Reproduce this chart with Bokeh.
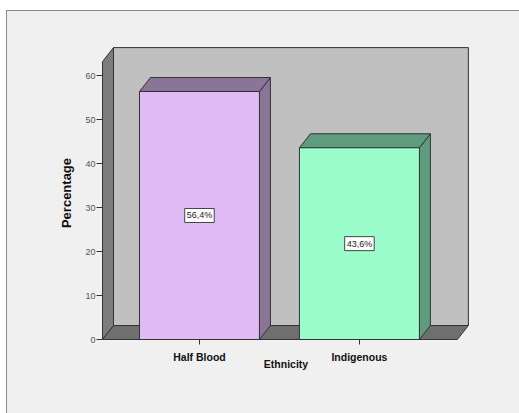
from bokeh.plotting import figure
from bokeh.models import Range1d, FixedTicker
from bokeh.core.properties import value
from bokeh.embed import file_html
from bokeh.resources import INLINE

# ---- data ----
categories = ["Half Blood", "Indigenous"]
percentages = [56.4, 43.6]
bar_labels = ["56,4%", "43,6%"]
y_ticks = [0, 10, 20, 30, 40, 50, 60]

# ---- styles / geometry ----
front_colors = ["#dfbaf3", "#9bfdcb"]
shade_colors = ["#8a7497", "#5e9c7d"]
positions = [1, 2]
bar_w = 0.75
x_lo, x_hi = 0.39375, 2.6125      # front floor extents
y_top = 63.2                       # top of front axis
dx, dy = 0.06875, 3.18             # 3D depth offset
edge = "#333333"
FONT = "Liberation Sans"

p = figure(width=519, height=413, output_backend="svg", toolbar_location=None,
           x_range=Range1d(x_lo, x_hi + dx + 0.007),
           y_range=Range1d(0, y_top + dy + 0.25),
           min_border_left=102, min_border_right=50,
           min_border_top=46, min_border_bottom=74,
           styles={"background-color": "#f0f0f0",
                   "box-shadow": "inset 6px 10px 0 0 #ffffff, inset 7px 11px 0 0 #8a8a8a"})
p.background_fill_color = "#f0f0f0"
p.border_fill_color = None
p.outline_line_color = None
p.grid.visible = False

# back wall
p.patch([x_lo + dx, x_hi + dx, x_hi + dx, x_lo + dx],
        [dy, dy, y_top + dy, y_top + dy],
        fill_color="#c0c0c0", line_color=edge, line_width=1)
# left wall
p.patch([x_lo, x_lo, x_lo + dx, x_lo + dx],
        [0, y_top, y_top + dy, dy],
        fill_color="#7d7d7d", line_color=edge, line_width=1)
# floor
p.patch([x_lo, x_hi, x_hi + dx, x_lo + dx],
        [0, 0, dy, dy],
        fill_color="#6f6f6f", line_color=edge, line_width=1)

# bars
for pos, v, fc, sc in zip(positions, percentages, front_colors, shade_colors):
    l, r = pos - bar_w / 2, pos + bar_w / 2
    p.patch([r, r, r + dx, r + dx], [0, v, v + dy, dy],
            fill_color=sc, line_color=edge, line_width=1)
    p.patch([l, r, r + dx, l + dx], [v, v, v + dy, v + dy],
            fill_color=sc, line_color=edge, line_width=1)
    p.quad(left=l, right=r, bottom=0, top=v,
           fill_color=fc, line_color=edge, line_width=1)

# value labels
p.text(x=positions, y=[v / 2 for v in percentages], text=bar_labels,
       text_font=value(FONT), text_font_size="9px", text_color="#222222",
       text_align="center", text_baseline="middle",
       background_fill_color="white", border_line_color="#444444",
       border_line_width=1, padding=2)

# axes
ya = p.yaxis[0]
ya.ticker = FixedTicker(ticks=y_ticks)
ya.bounds = (0, y_top)
ya.axis_line_color = edge
ya.major_tick_line_color = edge
ya.major_tick_in = 0
ya.major_tick_out = 6
ya.minor_tick_line_color = None
ya.major_label_text_font = FONT
ya.major_label_text_font_size = "9px"
ya.major_label_text_color = "#555555"
ya.major_label_standoff = 1
ya.axis_label = "Percentage"
ya.axis_label_text_font = FONT
ya.axis_label_text_font_style = "bold"
ya.axis_label_text_font_size = "13px"
ya.axis_label_text_color = "#111111"
ya.axis_label_standoff = 8

xa = p.xaxis[0]
xa.ticker = FixedTicker(ticks=positions)
xa.major_label_overrides = {pos: c for pos, c in zip(positions, categories)}
xa.bounds = (x_lo, x_hi)
xa.axis_line_color = edge
xa.major_tick_line_color = edge
xa.major_tick_in = 0
xa.major_tick_out = 5
xa.minor_tick_line_color = None
xa.major_label_text_font = FONT
xa.major_label_text_font_style = "bold"
xa.major_label_text_font_size = "10.5px"
xa.major_label_text_color = "#111111"
xa.major_label_standoff = 6
xa.axis_label = "Ethnicity"
xa.axis_label_text_font = FONT
xa.axis_label_text_font_style = "bold"
xa.axis_label_text_font_size = "10.5px"
xa.axis_label_text_color = "#111111"
xa.axis_label_standoff = -8

open("out.html", "w").write(file_html(p, INLINE))
